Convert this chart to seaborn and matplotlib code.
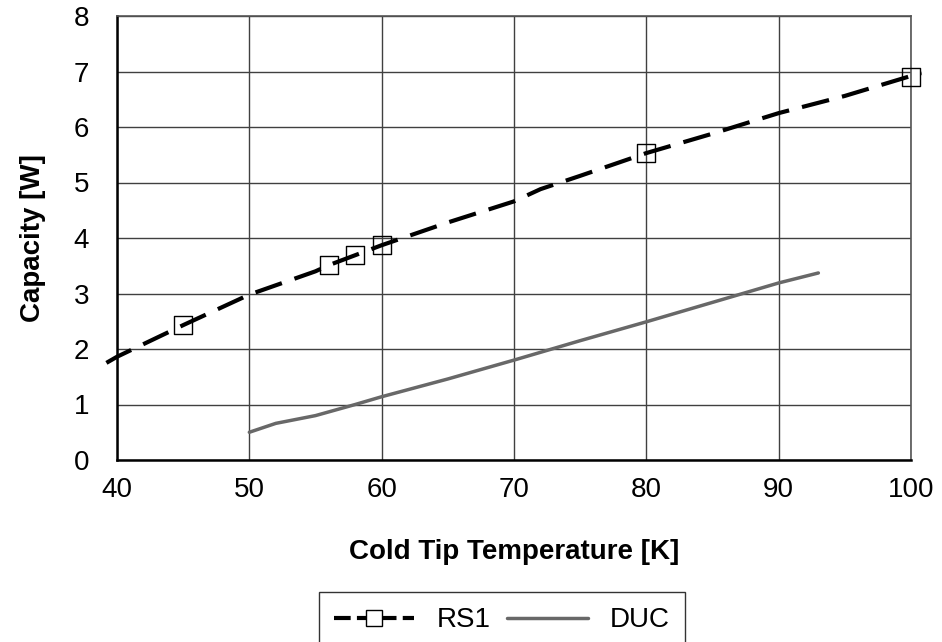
import matplotlib
matplotlib.use("Agg")
import matplotlib.pyplot as plt
import seaborn as sns
from matplotlib.lines import Line2D

sns.set_theme(style="white")
plt.rcParams['font.family'] = ['Liberation Sans', 'DejaVu Sans']

# RS1 measured points
rs1_x = [45, 56, 58, 60, 80, 100]
rs1_y = [2.43, 3.51, 3.69, 3.87, 5.53, 6.90]
# RS1 trend curve
rs1_fit_x = [39.2, 40, 45, 50, 55, 56, 58, 60, 65, 70, 72, 75, 80, 85, 90, 95, 100, 100.8]
rs1_fit_y = [1.75, 1.86, 2.43, 2.98, 3.40, 3.51, 3.69, 3.87, 4.28, 4.66, 4.88, 5.12, 5.53, 5.88, 6.25, 6.56, 6.92, 6.97]
# DUC
duc_x = [50, 52, 55, 58, 60, 65, 70, 75, 80, 85, 90, 93]
duc_y = [0.50, 0.66, 0.80, 1.00, 1.14, 1.46, 1.80, 2.15, 2.49, 2.84, 3.19, 3.37]

x_ticks = [40, 50, 60, 70, 80, 90, 100]
y_ticks = [0, 1, 2, 3, 4, 5, 6, 7, 8]

fig = plt.figure(figsize=(9.42, 6.42), dpi=100)
ax = fig.add_axes([117/942, 1-460/642, (911-117)/942, (460-16)/642])

sns.lineplot(x=rs1_fit_x, y=rs1_fit_y, ax=ax, color='black', linewidth=3.0,
             sort=False, clip_on=False, zorder=4)
ax.lines[-1].set_dashes([6.7, 3.2])
sns.scatterplot(x=rs1_x, y=rs1_y, ax=ax, marker='s', s=170, facecolors='none',
                edgecolor='black', linewidth=1.0, clip_on=False, zorder=5)
sns.lineplot(x=duc_x, y=duc_y, ax=ax, color='#686868', linewidth=2.5, zorder=3)

ax.set_xlim(40, 100)
ax.set_ylim(0, 8)
ax.set_xticks(x_ticks)
ax.set_yticks(y_ticks)
ax.tick_params(axis='both', labelsize=20, length=0, labelcolor='black')
ax.tick_params(axis='x', pad=12)
ax.tick_params(axis='y', pad=20)
ax.grid(True, color='#404040', linewidth=1.0)
ax.set_axisbelow(True)
for s in ['top', 'right']:
    ax.spines[s].set_color('#555555')
    ax.spines[s].set_linewidth(1.2)
for s in ['left', 'bottom']:
    ax.spines[s].set_color('black')
    ax.spines[s].set_linewidth(1.8)

ax.set_xlabel('Cold Tip Temperature [K]', fontsize=20, fontweight='bold', labelpad=26,
              color='black')
ax.set_ylabel('Capacity [W]', fontsize=20, fontweight='bold', labelpad=20, color='black')

handles = [
    Line2D([], [], color='black', linewidth=3.0, dashes=[4, 1.5], marker='s',
           markersize=11, markerfacecolor='white', markeredgecolor='black', markeredgewidth=1.0),
    Line2D([], [], color='#686868', linewidth=2.5),
]
leg = fig.legend(handles, ['RS1', 'DUC'], loc='upper center', ncol=2,
                 bbox_to_anchor=(502/942, 1-592/642), fontsize=20, frameon=True,
                 fancybox=False, edgecolor='black', handlelength=2.9, columnspacing=0.6,
                 handletextpad=0.8, borderpad=0.55, borderaxespad=0)
leg.get_frame().set_linewidth(1.0)
for t in leg.get_texts():
    t.set_color('black')

fig.savefig('out.png', dpi=100)
